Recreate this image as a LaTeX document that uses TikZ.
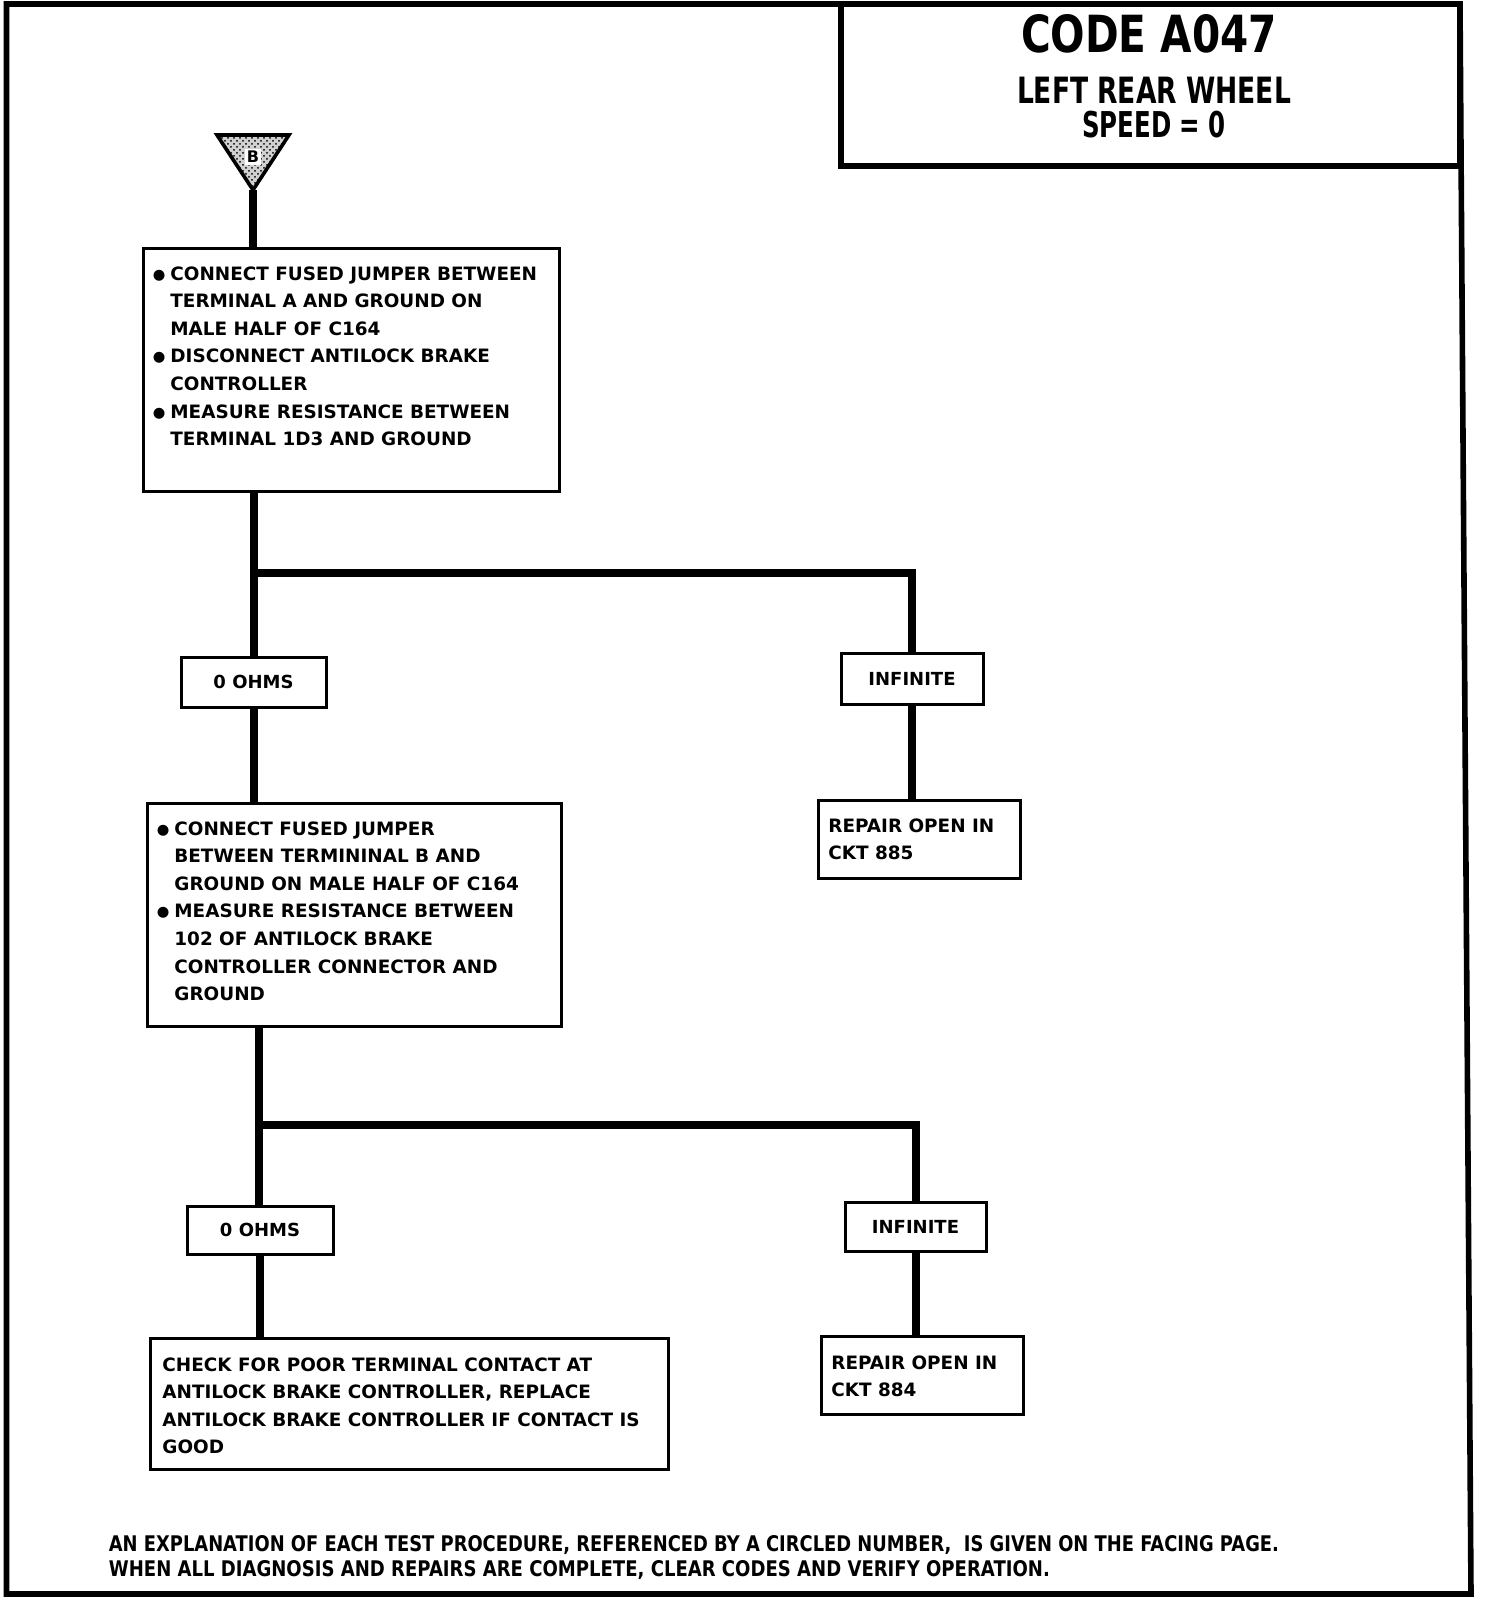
\documentclass[tikz,border=0pt]{standalone}
\usepackage{fontspec}
\setmainfont{DejaVu Sans}
\usepackage{graphicx}
\usetikzlibrary{fit,patterns}
\newcommand\bul{\llap{\raisebox{0.5pt}{\fontsize{7.2}{7.2}\selectfont ●}\hspace{2.5pt}}}
\begin{document}
\begin{tikzpicture}[x=0.5pt,y=-0.5pt,
  box/.style={draw, line width=1.5pt, inner sep=0pt},
  conn/.style={line width=4pt, line join=miter},
  txt/.style={anchor=north west, inner sep=0pt, align=left, font=\fontsize{9.2}{13.8}\selectfont\bfseries},
  lbl/.style={inner sep=0pt, font=\fontsize{9}{10}\selectfont\bfseries},
  ttl/.style={anchor=base, inner sep=0pt, font=\bfseries}]
\useasboundingbox (0,0) rectangle (1504,1602);
% outer frame
\draw[line width=2.8pt, line join=miter] (6.5,4) -- (1460,4) -- (1471,1594) -- (6.5,1594) -- cycle;
% title box
\node[draw, line width=3pt, inner sep=0pt, fit={(841,4) (1460,166)}] (titlebox) {};
\node[ttl] (t1) at (1149,52) {\resizebox{128pt}{19pt}{CODE A047}};
\node[ttl] (t2) at (1154,103) {\resizebox{137pt}{13.2pt}{LEFT REAR WHEEL}};
\node[ttl] (t3) at (1154,137) {\resizebox{72pt}{13.2pt}{SPEED = 0}};
% entry triangle
\fill[black!18] (217,135) -- (289,135) -- (253,190) -- cycle;
\fill[pattern=crosshatch dots, pattern color=black] (217,135) -- (289,135) -- (253,190) -- cycle;
\draw[line width=1.8pt, line join=miter] (217,135) -- (289,135) -- (253,190) -- cycle;
\coordinate (tip) at (253,190);
\node[inner sep=1pt, fill=white, font=\fontsize{8}{8}\selectfont\bfseries] (bmark) at (253,157) {B};
% boxes
\node[box, fit={(143,248) (559,491.5)}] (b1) {};
\node[txt] (b1t) at (170,266) {\bul CONNECT FUSED JUMPER BETWEEN\\TERMINAL A AND GROUND ON\\MALE HALF OF C164\\\bul DISCONNECT ANTILOCK BRAKE\\CONTROLLER\\\bul MEASURE RESISTANCE BETWEEN\\TERMINAL 1D3 AND GROUND};
\node[box, fit={(181,657) (326,707)}] (o1) {};
\node[lbl] (o1t) at (o1.center) {0 OHMS};
\node[box, fit={(841,653) (983,704.5)}] (inf1) {};
\node[lbl] (inf1t) at (inf1.center) {INFINITE};
\node[box, fit={(818,800) (1020,878)}] (rep1) {};
\node[txt] (rep1t) at (828,818) {REPAIR OPEN IN\\CKT 885};
\node[box, fit={(147,803) (561,1026)}] (b2) {};
\node[txt] (b2t) at (174,821) {\bul CONNECT FUSED JUMPER\\BETWEEN TERMININAL B AND\\GROUND ON MALE HALF OF C164\\\bul MEASURE RESISTANCE BETWEEN\\102 OF ANTILOCK BRAKE\\CONTROLLER CONNECTOR AND\\GROUND};
\node[box, fit={(187,1206) (333,1254)}] (o2) {};
\node[lbl] (o2t) at (o2.center) {0 OHMS};
\node[box, fit={(845,1202) (986,1251)}] (inf2) {};
\node[lbl] (inf2t) at (inf2.center) {INFINITE};
\node[box, fit={(150,1338) (668,1469)}] (b3) {};
\node[txt] (b3t) at (162,1357) {CHECK FOR POOR TERMINAL CONTACT AT\\ANTILOCK BRAKE CONTROLLER, REPLACE\\ANTILOCK BRAKE CONTROLLER IF CONTACT IS\\GOOD};
\node[box, fit={(821,1336) (1023,1414)}] (rep2) {};
\node[txt] (rep2t) at (831,1355) {REPAIR OPEN IN\\CKT 884};
% connectors
\coordinate (j1) at (254,573);
\coordinate (j2) at (259,1125);
\draw[conn] (tip) -- (tip |- b1.north);
\draw[conn] (j1 |- b1.south) -- (j1 |- o1.north);
\draw[conn] (j1) -- (j1 -| inf1.north) -- (inf1.north);
\draw[conn] (o1.south) -- (o1.south |- b2.north);
\draw[conn] (inf1.south) -- (inf1.south |- rep1.north);
\draw[conn] (j2 |- b2.south) -- (j2 |- o2.north);
\draw[conn] (j2) -- (j2 -| inf2.north) -- (inf2.north);
\draw[conn] (o2.south) -- (o2.south |- b3.north);
\draw[conn] (inf2.south) -- (inf2.south |- rep2.north);
% footer
\node[anchor=base west, inner sep=0pt, font=\bfseries] (f1) at (108.5,1551) {\resizebox{585pt}{8pt}{AN EXPLANATION OF EACH TEST PROCEDURE, REFERENCED BY A CIRCLED NUMBER,\ \ IS GIVEN ON THE FACING PAGE.}};
\node[anchor=base west, inner sep=0pt, font=\bfseries] (f2) at (108.5,1576) {\resizebox{470.5pt}{8pt}{WHEN ALL DIAGNOSIS AND REPAIRS ARE COMPLETE, CLEAR CODES AND VERIFY OPERATION.}};
\end{tikzpicture}
\end{document}
